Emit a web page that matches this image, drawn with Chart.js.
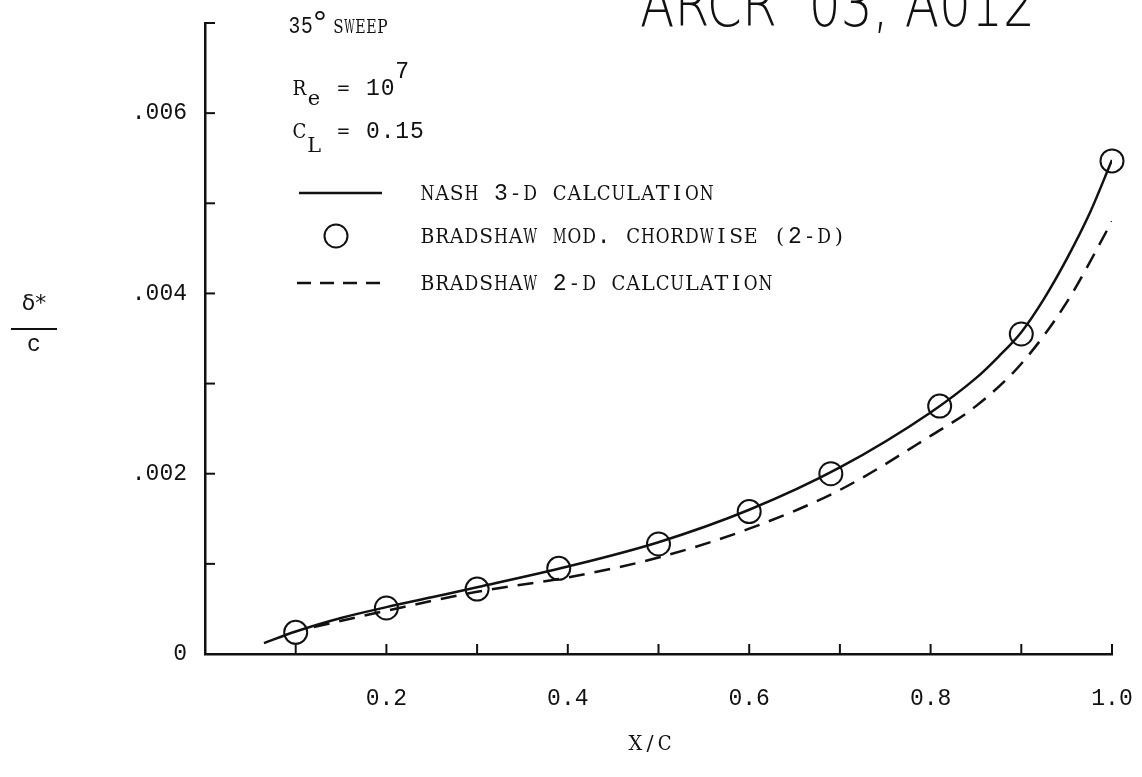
<!DOCTYPE html>
<html>
<head>
<meta charset="utf-8">
<title>Displacement thickness, 35° sweep</title>
<script src="https://cdn.jsdelivr.net/npm/chart.js@4.4.1/dist/chart.umd.min.js"></script>
<style>
  html, body { margin: 0; padding: 0; background: #fff; }
  #wrap { width: 1142px; height: 777px; }
</style>
</head>
<body>
<div id="wrap"><canvas id="thickness-chart" width="1142" height="777"></canvas></div>
<script>
// Bradshaw modified chordwise points (circles)
const circleX = [0.10, 0.20, 0.30, 0.39, 0.50, 0.60, 0.69, 0.81, 0.90, 1.00];
const circleY = [0.00024, 0.00051, 0.00072, 0.00095, 0.00122, 0.00158, 0.00200, 0.00275, 0.00355, 0.00547];

// Nash 3-D calculation (solid curve)
const nashX = [0.065, 0.10, 0.15, 0.20, 0.25, 0.30, 0.40, 0.50, 0.60, 0.70, 0.80, 0.85, 0.875, 0.90, 0.925, 0.95, 0.975, 1.00];
const nashY = [0.00012, 0.00025, 0.00040, 0.00052, 0.00063, 0.00074, 0.00097, 0.00124, 0.00160, 0.00207, 0.00268, 0.00306, 0.00330, 0.00357, 0.00394, 0.00438, 0.00488, 0.00548];

// Bradshaw 2-D calculation (dashed curve)
const bradX = [0.12, 0.20, 0.30, 0.40, 0.50, 0.60, 0.70, 0.80, 0.85, 0.90, 0.95, 1.00];
const bradY = [0.00030, 0.00048, 0.00069, 0.00085, 0.00107, 0.00139, 0.00182, 0.00242, 0.00275, 0.00322, 0.00390, 0.00480];

const xTickLabels = ['', '', '0.2', '', '0.4', '', '0.6', '', '0.8', '', '1.0'];
const yTickLabels = ['0', '', '.002', '', '.004', '', '.006', ''];
const seriesLabels = ['NASH 3-D CALCULATION', 'BRADSHAW MOD. CHORDWISE (2-D)', 'BRADSHAW 2-D CALCULATION'];

const INK = '#111111';
const PITCH = 14.7;

const toPoints = (xs, ys) => xs.map((x, i) => ({ x: x, y: ys[i] }));

// typewriter style: one character per fixed cell, digits in the gothic face
function typeText(ctx, str, x, y, pitch, size) {
  ctx.textAlign = 'center';
  ctx.textBaseline = 'alphabetic';
  for (let i = 0; i < str.length; i++) {
    const ch = str[i];
    if (ch === ' ') continue;
    ctx.font = /[0-9.]/.test(ch) ? (size + 1) + 'px "Liberation Mono"' : (size - 1) + 'px "DejaVu Serif"';
    ctx.fillText(ch, x + i * pitch + pitch / 2, y, pitch * 0.94);
  }
}

// short tick marks pointing into the plot
const innerTicks = {
  id: 'innerTicks',
  afterDraw(chart) {
    const { ctx, chartArea, scales } = chart;
    ctx.save();
    ctx.strokeStyle = INK;
    ctx.lineWidth = 2;
    scales.y.ticks.forEach(t => {
      if (t.value <= 0) return;
      const y = scales.y.getPixelForValue(t.value);
      ctx.beginPath();
      ctx.moveTo(chartArea.left, y);
      ctx.lineTo(chartArea.left + 10, y);
      ctx.stroke();
    });
    scales.x.ticks.forEach(t => {
      if (t.value <= 0) return;
      const x = scales.x.getPixelForValue(t.value);
      ctx.beginPath();
      ctx.moveTo(x, chartArea.bottom);
      ctx.lineTo(x, chartArea.bottom - 10);
      ctx.stroke();
    });
    ctx.restore();
  }
};

// key, flight conditions, axis titles
const notes = {
  id: 'notes',
  afterDraw(chart) {
    const ctx = chart.ctx;
    const ds = chart.data.datasets;
    ctx.save();
    ctx.fillStyle = INK;
    ctx.strokeStyle = INK;

    // header written by hand, running off the top edge
    ctx.font = '200 62px "DejaVu Sans"';
    ctx.textAlign = 'left';
    ctx.textBaseline = 'alphabetic';
    ctx.fillText('ARCR  03, A012', 640, 26, 395);

    // 35° SWEEP
    typeText(ctx, '35', 288, 33, 12.5, 23);
    ctx.font = '34px "Liberation Mono"';
    ctx.textAlign = 'center';
    ctx.fillText('°', 320, 33);
    typeText(ctx, 'SWEEP', 333, 33, 11, 20);

    // Re = 10^7
    typeText(ctx, 'R', 292, 95, PITCH, 22);
    typeText(ctx, 'e', 292 + PITCH, 105, PITCH, 22);
    typeText(ctx, '= 10', 292 + 3 * PITCH, 95, PITCH, 22);
    typeText(ctx, '7', 292 + 7 * PITCH, 78, PITCH, 22);

    // CL = 0.15
    typeText(ctx, 'C', 292, 138, PITCH, 22);
    typeText(ctx, 'L', 292 + PITCH, 152, PITCH, 22);
    typeText(ctx, '= 0.15', 292 + 3 * PITCH, 138, PITCH, 22);

    // key rows
    const rows = [193, 236, 283];
    ctx.lineWidth = ds[0].borderWidth;
    ctx.beginPath();
    ctx.moveTo(299, rows[0]);
    ctx.lineTo(382, rows[0]);
    ctx.stroke();

    ctx.lineWidth = ds[1].pointBorderWidth;
    ctx.beginPath();
    ctx.arc(336, rows[1], ds[1].pointRadius, 0, Math.PI * 2);
    ctx.stroke();

    ctx.lineWidth = ds[2].borderWidth;
    ctx.setLineDash([14, 9]);
    ctx.beginPath();
    ctx.moveTo(297, rows[2]);
    ctx.lineTo(382, rows[2]);
    ctx.stroke();
    ctx.setLineDash([]);

    seriesLabels.forEach((label, i) => typeText(ctx, label, 420, rows[i] + 7, PITCH, 22));

    // x title
    typeText(ctx, 'X/C', 628, 750, PITCH, 22);

    // y title, delta* over c
    ctx.font = '22px "DejaVu Sans"';
    ctx.textAlign = 'center';
    ctx.textBaseline = 'middle';
    ctx.fillText('δ*', 34, 304);
    ctx.lineWidth = 2;
    ctx.beginPath();
    ctx.moveTo(11, 329);
    ctx.lineTo(57, 329);
    ctx.stroke();
    ctx.font = '23px "Liberation Mono"';
    ctx.fillText('c', 34, 345);

    ctx.restore();
  }
};

new Chart(document.getElementById('thickness-chart'), {
  type: 'scatter',
  data: {
    datasets: [
      {
        label: seriesLabels[0],
        data: toPoints(nashX, nashY),
        showLine: true,
        borderColor: INK,
        borderWidth: 2.5,
        pointRadius: 0,
        cubicInterpolationMode: 'monotone',
        fill: false
      },
      {
        label: seriesLabels[1],
        data: toPoints(circleX, circleY),
        showLine: false,
        pointStyle: 'circle',
        pointRadius: 11.5,
        pointBorderWidth: 2,
        pointBorderColor: INK,
        pointBackgroundColor: 'rgba(0,0,0,0)',
        clip: false
      },
      {
        label: seriesLabels[2],
        data: toPoints(bradX, bradY),
        showLine: true,
        borderColor: INK,
        borderWidth: 2.5,
        borderDash: [16, 10],
        pointRadius: 0,
        cubicInterpolationMode: 'monotone',
        fill: false
      }
    ]
  },
  options: {
    responsive: false,
    animation: false,
    events: [],
    layout: { padding: { top: 23, right: 30, bottom: 0, left: 0 } },
    plugins: {
      legend: { display: false },
      tooltip: { enabled: false }
    },
    scales: {
      x: {
        type: 'linear',
        min: 0,
        max: 1,
        afterFit(scale) {
          scale.height = 123;
          scale.paddingLeft = 0;
          scale.paddingRight = 0;
        },
        grid: { display: true, drawOnChartArea: false, drawTicks: false },
        border: { display: true, color: INK, width: 2.5 },
        ticks: {
          stepSize: 0.1,
          autoSkip: false,
          maxRotation: 0,
          padding: 31,
          color: INK,
          font: { family: 'Liberation Mono', size: 23 },
          callback: (v) => xTickLabels[Math.round(v * 10)] ?? ''
        }
      },
      y: {
        type: 'linear',
        min: 0,
        max: 0.007,
        afterFit(scale) {
          scale.width = 205;
          scale.paddingTop = 0;
          scale.paddingBottom = 0;
        },
        grid: { display: true, drawOnChartArea: false, drawTicks: false },
        border: { display: true, color: INK, width: 2.5 },
        ticks: {
          stepSize: 0.001,
          autoSkip: false,
          padding: 18,
          color: INK,
          font: { family: 'Liberation Mono', size: 23 },
          callback: (v) => yTickLabels[Math.round(v / 0.001)] ?? ''
        }
      }
    }
  },
  plugins: [innerTicks, notes]
});
</script>
</body>
</html>
